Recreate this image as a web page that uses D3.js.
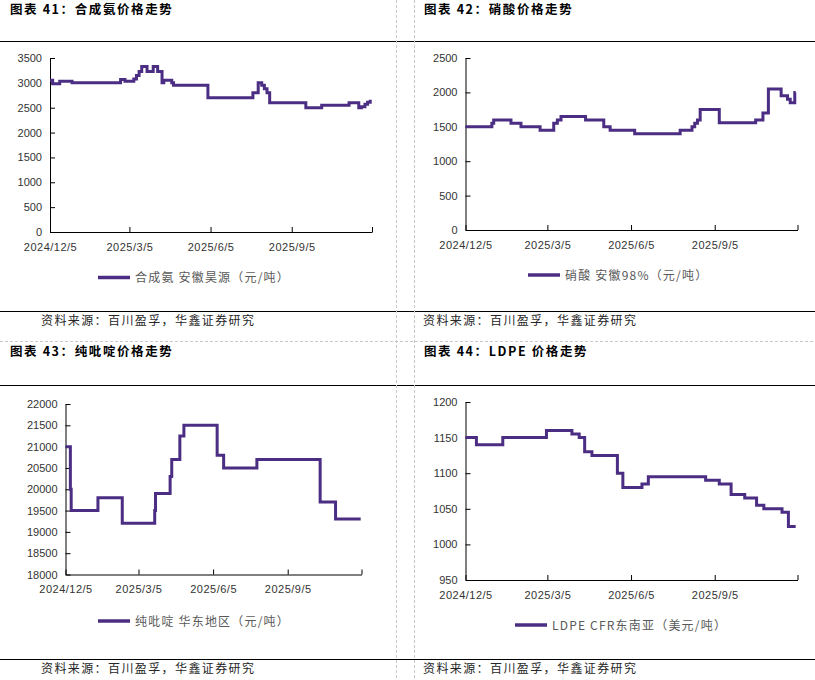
<!DOCTYPE html>
<html>
<head>
<meta charset="utf-8">
<script src="https://cdn.jsdelivr.net/npm/d3@7"></script>
<style>
  body { margin: 0; background: #fff; }
  .num text { font-family: "Liberation Sans", Arial, sans-serif; }
  .cn { font-family: "Noto Sans CJK SC", sans-serif; }
</style>
</head>
<body>
<svg id="chart" width="815" height="680"></svg>
<script>
// price series, [date, value] - value holds until the next date
var ammonia = [
  ['2024-12-05', 3050], ['2024-12-08', 2980], ['2024-12-16', 3030], ['2024-12-30', 3000],
  ['2025-02-23', 3070], ['2025-02-28', 3030], ['2025-03-10', 3080], ['2025-03-13', 3150],
  ['2025-03-16', 3230], ['2025-03-19', 3330], ['2025-03-25', 3230], ['2025-04-01', 3330],
  ['2025-04-06', 3230], ['2025-04-11', 3000], ['2025-04-13', 3050], ['2025-04-22', 3000],
  ['2025-04-24', 2950], ['2025-06-02', 2700], ['2025-07-23', 2800], ['2025-07-29', 3000],
  ['2025-08-02', 2950], ['2025-08-05', 2880], ['2025-08-08', 2800], ['2025-08-11', 2600],
  ['2025-09-21', 2500], ['2025-10-09', 2550], ['2025-11-09', 2600], ['2025-11-20', 2500],
  ['2025-11-23', 2520], ['2025-11-27', 2570], ['2025-11-30', 2610], ['2025-12-03', 2660]
];

var nitricAcid = [
  ['2024-12-05', 1500], ['2025-01-03', 1550], ['2025-01-05', 1600], ['2025-01-24', 1550],
  ['2025-02-04', 1500], ['2025-02-25', 1450], ['2025-03-12', 1550], ['2025-03-16', 1600],
  ['2025-03-20', 1650], ['2025-04-16', 1600], ['2025-05-06', 1500], ['2025-05-13', 1450],
  ['2025-06-09', 1400], ['2025-07-29', 1450], ['2025-08-11', 1500], ['2025-08-14', 1550],
  ['2025-08-17', 1600], ['2025-08-20', 1750], ['2025-09-10', 1560], ['2025-10-20', 1600],
  ['2025-10-28', 1700], ['2025-11-03', 2050], ['2025-11-17', 1950], ['2025-11-24', 1900],
  ['2025-11-27', 1850], ['2025-12-02', 2000], ['2025-12-03', 2000]
];

var pyridine = [
  ['2024-12-05', 21000], ['2024-12-11', 20000], ['2024-12-12', 19500], ['2025-01-14', 19800],
  ['2025-02-13', 19200], ['2025-03-25', 19500], ['2025-03-26', 19900], ['2025-04-13', 20300],
  ['2025-04-15', 20700], ['2025-04-25', 21250], ['2025-04-30', 21500], ['2025-06-10', 20800],
  ['2025-06-18', 20500], ['2025-07-29', 20700], ['2025-10-15', 19700], ['2025-11-03', 19300],
  ['2025-12-04', 19300]
];

var ldpe = [
  ['2024-12-05', 1150], ['2024-12-17', 1140], ['2025-01-15', 1150], ['2025-03-04', 1160],
  ['2025-04-01', 1155], ['2025-04-09', 1150], ['2025-04-15', 1130], ['2025-04-23', 1125],
  ['2025-05-21', 1100], ['2025-05-27', 1080], ['2025-06-17', 1085], ['2025-06-24', 1095],
  ['2025-08-26', 1090], ['2025-09-10', 1085], ['2025-09-23', 1070], ['2025-10-08', 1065],
  ['2025-10-21', 1055], ['2025-10-29', 1050], ['2025-11-18', 1045], ['2025-11-25', 1025],
  ['2025-12-03', 1025]
];

var xTicks = ['2024-12-05', '2025-03-05', '2025-06-05', '2025-09-05', '2025-12-05'];
var titles = ['图表 41：合成氨价格走势', '图表 42：硝酸价格走势', '图表 43：纯吡啶价格走势', '图表 44：LDPE 价格走势'];
var legends = ['合成氨 安徽昊源（元/吨）', '硝酸 安徽98%（元/吨）', '纯吡啶 华东地区（元/吨）', 'LDPE CFR东南亚（美元/吨）'];
var yDomains = [[0, 3500], [0, 2500], [18000, 22000], [950, 1200]];
var ySteps = [500, 500, 500, 50];
var source = '资料来源：百川盈孚，华鑫证券研究';

var lineColor = '#4b2e83';
var parse = d3.timeParse('%Y-%m-%d'),
	fmt = d3.timeFormat('%Y/%-m/%-d');

var svg = d3.select('#chart');

// layout of the four cells
var layout = [
	{ left: 50, right: 372, top: 58, bottom: 232, tx: 10, ty: 14, lx: 98, ly: 277.5, sx: 41, sy: 324.5 },
	{ left: 465.5, right: 797.5, top: 58, bottom: 230, tx: 424, ty: 14, lx: 528, ly: 275, sx: 423, sy: 324.5 },
	{ left: 65.5, right: 361.5, top: 404, bottom: 574.5, tx: 10, ty: 356, lx: 98, ly: 621, sx: 41, sy: 672.5 },
	{ left: 465.5, right: 797.5, top: 402, bottom: 580, tx: 424, ty: 356, lx: 515, ly: 625, sx: 423, sy: 672.5 }
];
var series = [ammonia, nitricAcid, pyridine, ldpe];

// cell borders
[41.5, 311.5, 385.5, 659.5].forEach(function(yy) {
	svg.append('line').attr('x1', 0).attr('x2', 815).attr('y1', yy).attr('y2', yy)
		.attr('stroke', '#000').attr('stroke-width', 1.2);
});
[396.5, 414.5].forEach(function(xx) {
	svg.append('line').attr('x1', xx).attr('x2', xx).attr('y1', 0).attr('y2', 680)
		.attr('stroke', '#c8c8c8').attr('stroke-dasharray', '3,2');
});
svg.append('line').attr('x1', 0).attr('x2', 815).attr('y1', 341.5).attr('y2', 341.5)
	.attr('stroke', '#c8c8c8').attr('stroke-dasharray', '3,2');

function drawPanel(i) {
	var p = layout[i],
		data = series[i],
		g = svg.append('g');

	var x = d3.scaleTime()
		.domain([parse(xTicks[0]), parse(xTicks[xTicks.length - 1])])
		.range([p.left, p.right]);
	var y = d3.scaleLinear().domain(yDomains[i]).range([p.bottom, p.top]);

	var yAxis = d3.axisLeft(y)
		.tickValues(d3.range(yDomains[i][0], yDomains[i][1] + 1, ySteps[i]))
		.tickFormat(d3.format('d'))
		.tickSizeInner(-5).tickSizeOuter(0).tickPadding(8);
	var xAxis = d3.axisBottom(x)
		.tickValues(xTicks.map(parse))
		.tickFormat(function(d, k) { return k < xTicks.length - 1 ? fmt(d) : ''; })
		.tickSizeInner(-5).tickSizeOuter(0).tickPadding(11);

	var ya = g.append('g').attr('class', 'num')
		.attr('transform', 'translate(' + p.left + ',0)').call(yAxis);
	var xa = g.append('g').attr('class', 'num')
		.attr('transform', 'translate(0,' + p.bottom + ')').call(xAxis);

	[ya, xa].forEach(function(a) {
		a.attr('font-size', 11).attr('font-family', null);
		a.selectAll('text').attr('fill', '#333');
		a.selectAll('path, line').attr('stroke', '#000');
	});
	xa.selectAll('text').attr('letter-spacing', 0.5);

	var line = d3.line()
		.x(function(d) { return x(parse(d[0])); })
		.y(function(d) { return y(d[1]); })
		.curve(d3.curveStepAfter);

	g.append('path').datum(data)
		.attr('d', line)
		.attr('fill', 'none')
		.attr('stroke', lineColor)
		.attr('stroke-width', 3);

	// title
	g.append('text').attr('class', 'cn')
		.attr('x', p.tx).attr('y', p.ty)
		.attr('font-size', 12.5).attr('font-weight', 'bold')
		.attr('letter-spacing', 1.6)
		.attr('fill', '#000')
		.text(titles[i]);

	// legend
	g.append('line')
		.attr('x1', p.lx).attr('x2', p.lx + 32)
		.attr('y1', p.ly).attr('y2', p.ly)
		.attr('stroke', lineColor).attr('stroke-width', 3.5);
	g.append('text').attr('class', 'cn')
		.attr('x', p.lx + 37).attr('y', p.ly + 4.5)
		.attr('font-size', 12).attr('letter-spacing', 1.2)
		.attr('fill', '#595959')
		.text(legends[i]);

	// source
	g.append('text').attr('class', 'cn')
		.attr('x', p.sx).attr('y', p.sy)
		.attr('font-size', 12).attr('letter-spacing', 1.4)
		.attr('fill', '#262626')
		.text(source);
}

for (var i = 0; i < 4; i++) drawPanel(i);
</script>
</body>
</html>
